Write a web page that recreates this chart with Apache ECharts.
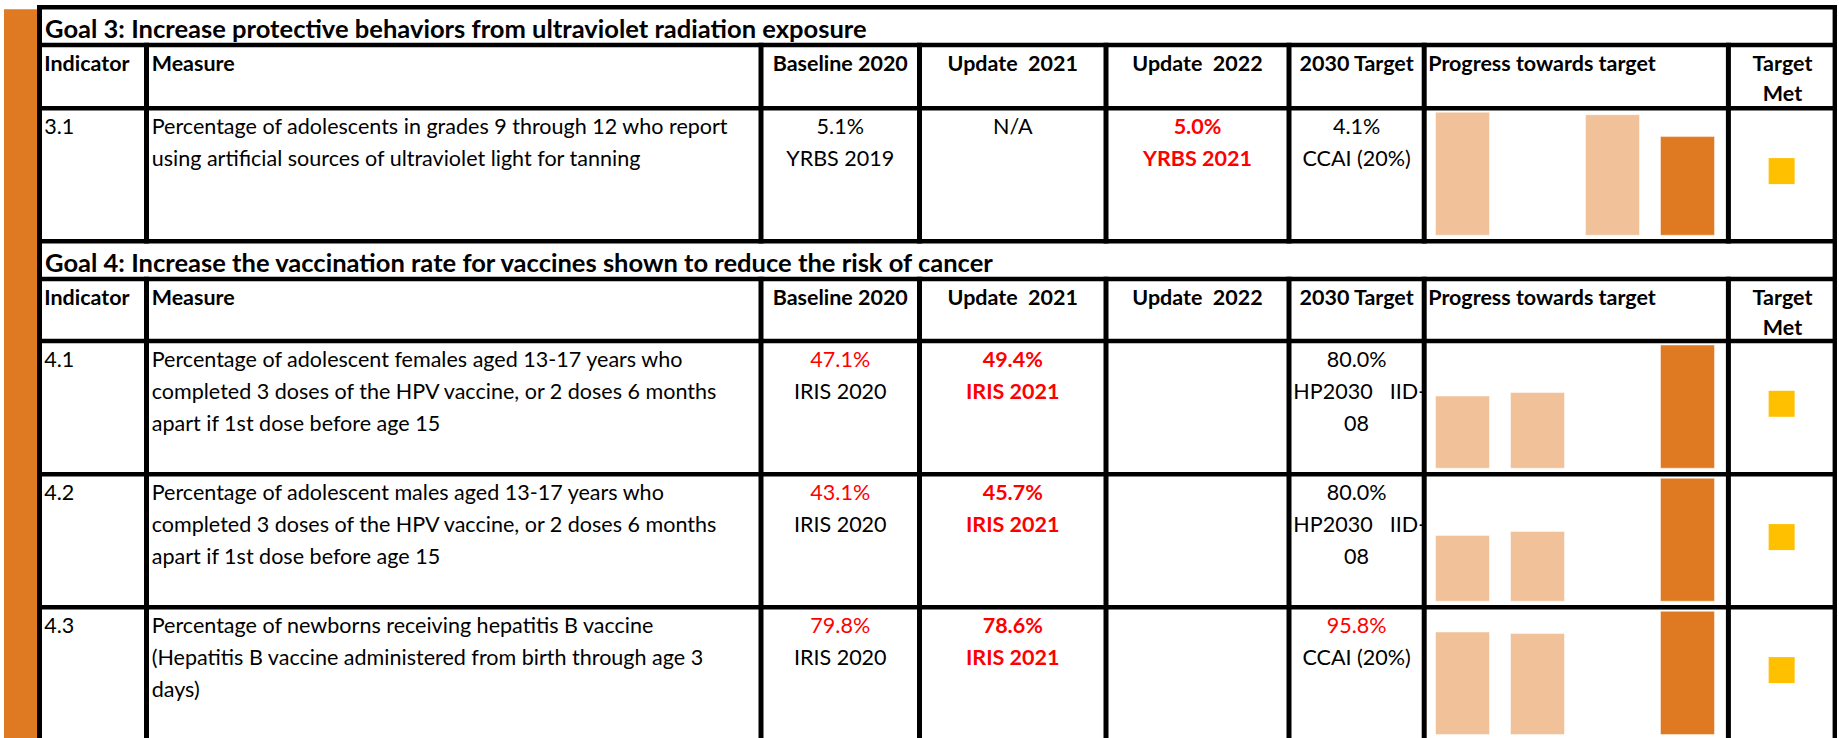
<!DOCTYPE html>
<html>
<head>
<meta charset="utf-8">
<script src="https://cdn.jsdelivr.net/npm/echarts@6/dist/echarts.min.js"></script>
<style>
html,body{margin:0;padding:0;background:#ffffff;}
#chart{width:1839px;height:738px;}
</style>
</head>
<body>
<div id="chart"></div>
<script>
// ---------------- DATA ----------------
const goalTitles = [
  'Goal 3: Increase protective behaviors from ultraviolet radiation exposure',
  'Goal 4: Increase the vaccination rate for vaccines shown to reduce the risk of cancer'
];
const headerLabels = ['Indicator', 'Measure', 'Baseline 2020', 'Update  2021', 'Update  2022', '2030 Target', 'Progress towards target', 'Target\nMet'];
const indicators = ['3.1', '4.1', '4.2', '4.3'];
const measures = [
  ['Percentage of adolescents in grades 9 through 12 who report', 'using artificial sources of ultraviolet light for tanning'],
  ['Percentage of adolescent females aged 13-17 years who', 'completed 3 doses of the HPV vaccine, or 2 doses 6 months', 'apart if 1st dose before age 15'],
  ['Percentage of adolescent males aged 13-17 years who', 'completed 3 doses of the HPV vaccine, or 2 doses 6 months', 'apart if 1st dose before age 15'],
  ['Percentage of newborns receiving hepatitis B vaccine', '(Hepatitis B vaccine administered from birth through age 3', 'days)']
];
const barCategories = ['Baseline 2020', 'Update 2021', 'Update 2022', '2030 Target'];
const baselineValues = [5.1, 47.1, 43.1, 79.8];
const baselineSources = ['YRBS 2019', 'IRIS 2020', 'IRIS 2020', 'IRIS 2020'];
const update2021Values = [null, 49.4, 45.7, 78.6];
const update2021Sources = ['N/A', 'IRIS 2021', 'IRIS 2021', 'IRIS 2021'];
const update2022Values = [5.0, null, null, null];
const update2022Sources = ['YRBS 2021', '', '', ''];
const targetValues = [4.1, 80.0, 80.0, 95.8];
const targetSources = ['CCAI (20%)', 'HP2030 IID-08', 'HP2030 IID-08', 'CCAI (20%)'];
const targetMet = ['No', 'No', 'No', 'No'];

// ---------------- STYLE / LAYOUT ----------------
const RED = '#FF0000', BLACK = '#000000';
const ORANGE_DARK = '#E07A22', ORANGE_LIGHT = '#F1C199', YELLOW = '#FFC000';
// highlight kind per column (baseline, 2021, 2022, target) per row
const highlight = [
  ['plain', 'plain', 'redBold', 'plain'],
  ['redValue', 'redBold', 'plain', 'plain'],
  ['redValue', 'redBold', 'plain', 'plain'],
  ['redValue', 'redBold', 'plain', 'redValue']
];

const FONT = 'Lato';
const ctx = document.createElement('canvas').getContext('2d');
function tw(t, w, s) { ctx.font = w + ' ' + s + 'px ' + FONT; return ctx.measureText(t).width; }
const titleSize = 100 * 822 / tw(goalTitles[0], 'bold', 100);
const headerSize = (100 * 133.3 / tw('Baseline 2020', 'bold', 100) + 100 * 231 / tw('Progress towards target', 'bold', 100)) / 2;
const bodySize = 100 * 577 / tw(measures[0][0], 'normal', 100);

const LW = 4.6;                   // line thickness
const tableLeft = 37, tableRight = 1837, bottomY = 738;
const vLines = [146.5, 761, 919.5, 1106, 1289, 1424.2, 1728.4]; // centers
const hLines = [5, 42.7, 106, 239, 276.7, 338.7, 472, 605];     // tops
const sections = [
  { titleTop: 5, titleBottom: 42.7, headerTop: 42.7, bodyBottom: 243.6 },
  { titleTop: 239, titleBottom: 276.7, headerTop: 276.7, bodyBottom: bottomY }
];
const rowTops = [106 + LW, 338.7 + LW, 472 + LW, 605 + LW];
const rowBottoms = [239, 472, 605, 738.3];

const colCenter = i => (vLines[i] + vLines[i + 1]) / 2;
const LINE_H = 32;

const graphics = [];
function rect(x, y, w, h, fill, z) {
  graphics.push({ type: 'rect', z: z, silent: true, shape: { x: x, y: y, width: w, height: h }, style: { fill: fill } });
}
function text(str, x, y, opts) {
  opts = opts || {};
  graphics.push({
    type: 'text', z: 5, silent: true, x: x, y: y,
    style: {
      text: str,
      fill: opts.color || BLACK,
      fontFamily: FONT,
      fontSize: opts.size || bodySize,
      fontWeight: opts.bold ? 'bold' : 'normal',
      align: opts.align || 'left', textAlign: opts.align || 'left',
      verticalAlign: 'middle', textVerticalAlign: 'middle'
    }
  });
}

// left orange band
rect(4, 9.3, 33, bottomY - 9.3, ORANGE_DARK, 1);

// borders
rect(tableLeft, 5, 5, bottomY - 5, BLACK, 10);
rect(tableRight - 4.4, 5, 4.4, bottomY - 5, BLACK, 10);
hLines.forEach(y => rect(tableLeft, y, tableRight - tableLeft, LW, BLACK, 10));
sections.forEach(s => {
  vLines.forEach(x => rect(x - 2.5, s.headerTop, 5, s.bodyBottom - s.headerTop, BLACK, 10));
});

// titles and headers
sections.forEach((s, si) => {
  text(goalTitles[si], 45, (s.titleTop + LW + s.titleBottom) / 2 + 1.8, { bold: true, size: titleSize });
  const hy = s.headerTop + LW + 16;
  text(headerLabels[0], 44.3, hy, { bold: true, size: headerSize });
  text(headerLabels[1], 151.7, hy, { bold: true, size: headerSize });
  for (let c = 2; c <= 5; c++) text(headerLabels[c], colCenter(c - 1), hy, { bold: true, size: headerSize, align: 'center' });
  text(headerLabels[6], 1428.3, hy, { bold: true, size: headerSize });
  headerLabels[7].split('\n').forEach((l, k) => text(l, (vLines[6] + tableRight - 4.4) / 2 + 2, hy + k * 30, { bold: true, size: headerSize, align: 'center' }));
});

// body rows
const valueCols = [
  [baselineValues, baselineSources],
  [update2021Values, update2021Sources],
  [update2022Values, update2022Sources],
  [targetValues, targetSources]
];
indicators.forEach((ind, r) => {
  const y0 = rowTops[r] + 15.5;
  text(ind, 44.3, y0);
  measures[r].forEach((l, k) => text(l, 151.7, y0 + k * LINE_H));
  valueCols.forEach((pair, c) => {
    const v = pair[0][r], src = pair[1][r];
    const kind = highlight[r][c];
    const cx = colCenter(c + 1);
    const vStyle = { align: 'center', color: kind === 'plain' ? BLACK : RED, bold: kind === 'redBold' };
    const sStyle = { align: 'center', color: kind === 'redBold' ? RED : BLACK, bold: kind === 'redBold' };
    let line = 0;
    if (v != null) { text(v.toFixed(1) + '%', cx, y0, vStyle); line = 1; }
    if (!src) return;
    if (src.indexOf(' IID-') > 0) {
      const parts = src.split(' ');            // ['HP2030','IID-08']
      text(parts[0], vLines[c + 1] + 4.3, y0 + line * LINE_H, { color: sStyle.color });
      text(parts[1].slice(0, 4), vLines[c + 2] + 2, y0 + line * LINE_H, { align: 'right', color: sStyle.color });
      text(parts[1].slice(4), cx, y0 + (line + 1) * LINE_H, sStyle);
    } else {
      text(src, cx, y0 + line * LINE_H, sStyle);
    }
  });
});

// ---------------- CHARTS ----------------
const grids = [], xAxes = [], yAxes = [], series = [];
indicators.forEach((ind, r) => {
  const top = rowTops[r] + 1.2;
  const bottom = rowBottoms[r] - 3.3;
  grids.push({ left: 1425, width: 300, top: top, height: bottom - top });
  xAxes.push({ type: 'category', gridIndex: grids.length - 1, data: barCategories, show: false });
  yAxes.push({ type: 'value', gridIndex: grids.length - 1, min: 0, max: 'dataMax', show: false });
  series.push({
    type: 'bar', xAxisIndex: xAxes.length - 1, yAxisIndex: yAxes.length - 1,
    barWidth: 55, silent: true,
    data: [baselineValues[r], update2021Values[r], update2022Values[r], targetValues[r]],
    itemStyle: {
      color: p => p.dataIndex === 3 ? ORANGE_DARK : ORANGE_LIGHT,
      borderColor: 'rgba(255,255,255,0.45)', borderWidth: 1
    }
  });
  // Target Met marker
  const cy = rowTops[r] + 60.5;
  grids.push({ left: vLines[6] + 2.3, width: (tableRight - 4.4) - (vLines[6] + 2.3), top: cy - 30, height: 60 });
  xAxes.push({ type: 'category', gridIndex: grids.length - 1, data: ['Target Met'], show: false });
  yAxes.push({ type: 'category', gridIndex: grids.length - 1, data: [ind], show: false });
  series.push({
    type: 'scatter', xAxisIndex: xAxes.length - 1, yAxisIndex: yAxes.length - 1,
    symbol: 'rect', symbolSize: 26, silent: true,
    data: [[0, 0, targetMet[r]]],
    itemStyle: { color: YELLOW, opacity: 1 }
  });
});

const chart = echarts.init(document.getElementById('chart'), null, { renderer: 'svg', width: 1839, height: 738 });
chart.setOption({
  animation: false,
  backgroundColor: '#ffffff',
  grid: grids,
  xAxis: xAxes,
  yAxis: yAxes,
  series: series,
  graphic: { elements: graphics }
});
</script>
</body>
</html>
